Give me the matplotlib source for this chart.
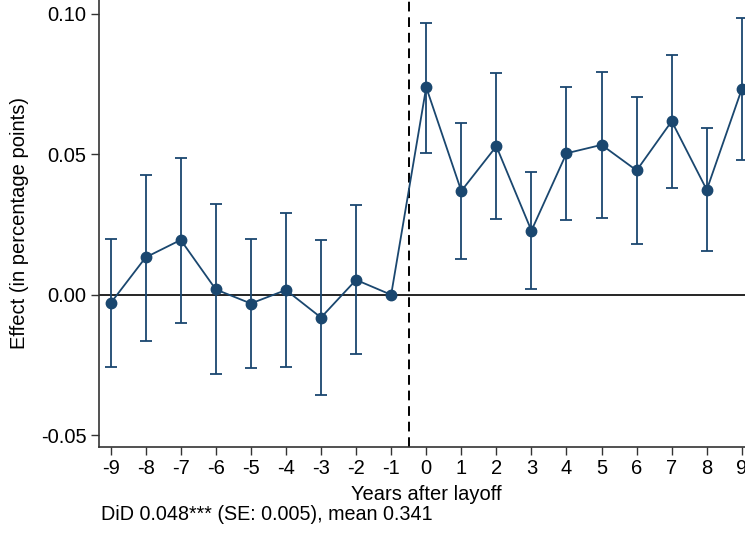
import matplotlib
matplotlib.use("Agg")
import matplotlib.pyplot as plt

plt.rcParams['font.family'] = ['Liberation Sans', 'DejaVu Sans']

# event-time estimates
years = [-9, -8, -7, -6, -5, -4, -3, -2, -1, 0, 1, 2, 3, 4, 5, 6, 7, 8, 9]
effect = [-0.0030, 0.0133, 0.0195, 0.0019, -0.0031, 0.0017, -0.0081, 0.0053, 0.0,
          0.0738, 0.0369, 0.0528, 0.0228, 0.0503, 0.0533, 0.0442, 0.0617, 0.0373, 0.0732]
ci_hi = [0.0198, 0.0427, 0.0486, 0.0324, 0.0200, 0.0291, 0.0195, 0.0319, 0.0,
         0.0968, 0.0612, 0.0789, 0.0435, 0.0738, 0.0791, 0.0704, 0.0853, 0.0592, 0.0983]
ci_lo = [-0.0255, -0.0163, -0.0099, -0.0282, -0.0260, -0.0255, -0.0356, -0.0209, 0.0,
         0.0505, 0.0127, 0.0268, 0.0021, 0.0267, 0.0274, 0.0180, 0.0381, 0.0154, 0.0479]
yticks = [-0.05, 0.0, 0.05, 0.10]
ytick_labels = ['-0.05', '0.00', '0.05', '0.10']
note = 'DiD 0.048*** (SE: 0.005), mean 0.341'

navy = '#1a476f'

fig = plt.figure(figsize=(7.45, 5.34), dpi=100)
ax = fig.add_axes([0.1329, 0.163, 0.8671, 0.837])

# zero line and event marker
ax.axhline(0, color='black', lw=1.2, zorder=1)
ax.axvline(-0.5, color='black', lw=1.4, ls=(0, (5, 3)), zorder=1)

# no CI for the reference year (-1)
keep = [i for i, x in enumerate(years) if x != -1]
ax.errorbar([years[i] for i in keep], [effect[i] for i in keep],
            yerr=[[effect[i] - ci_lo[i] for i in keep],
                  [ci_hi[i] - effect[i] for i in keep]],
            fmt='none', ecolor=navy, elinewidth=1.3, capsize=4.5, capthick=1.3, zorder=2)
ax.plot(years, effect, color=navy, lw=1.3, marker='o', markersize=7.5, zorder=3)

ax.set_xlim(-9.33, 9.09)
ax.set_ylim(-0.0541, 0.1048)
ax.set_xticks(years)
ax.set_xticklabels([str(y) for y in years])
ax.set_yticks(yticks)
ax.set_yticklabels(ytick_labels)
ax.tick_params(labelsize=14.5, length=6, width=1.0, color='#333333', pad=3)

ax.spines['top'].set_visible(False)
ax.spines['right'].set_visible(False)
for s in ['left', 'bottom']:
    ax.spines[s].set_color('#333333')
    ax.spines[s].set_linewidth(1.2)

ax.set_xlabel('Years after layoff', fontsize=14.5)
ax.xaxis.set_label_coords(0.507, -0.085)
ax.set_ylabel('Effect (in percentage points)', fontsize=14.5)
ax.yaxis.set_label_coords(-0.108, 0.5)

fig.text(0.136, 0.037, note, fontsize=14.2, va='center', ha='left')

fig.savefig('out.png', dpi=100)
